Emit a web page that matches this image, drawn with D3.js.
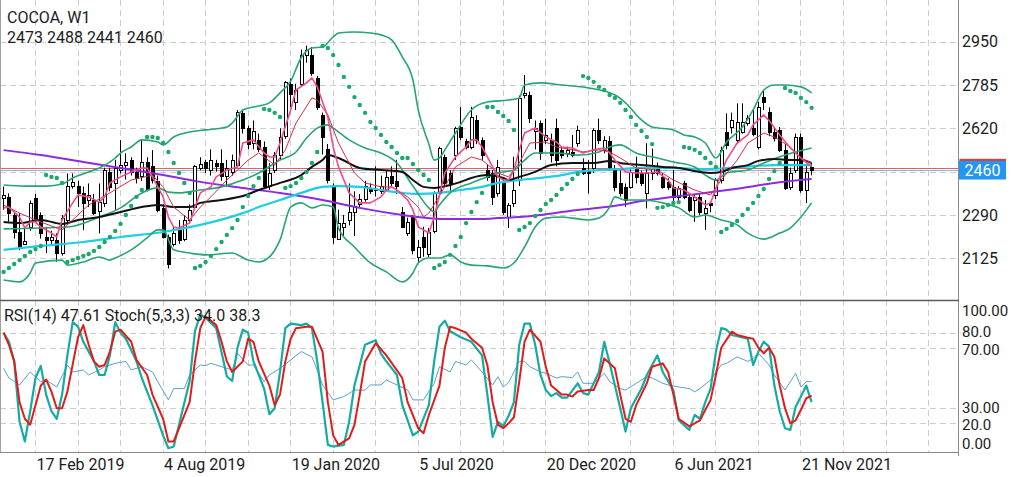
<!DOCTYPE html>
<html><head><meta charset="utf-8">
<script src="https://cdn.jsdelivr.net/npm/d3@7"></script>
<style>
html,body{margin:0;padding:0;background:#fff;overflow:hidden;}
svg{display:block;font-family:Roboto,"Noto Sans",sans-serif;}
</style></head><body>
<svg id="chart" width="1024" height="477"></svg>
<script>
// ---------- DATA (weekly bars, index 0 = week of 6 Jan 2019) ----------
const symbolTitle = "COCOA, W1";
const lastOHLC = "2473 2488 2441 2460";
const oscTitle = "RSI(14) 47.61 Stoch(5,3,3) 34.0 38.3";
const currentPrice = 2460;
const askPrice = 2470;

const openP = [2355,2360,2290,2226,2180,2245,2353,2290,2207,2195,2195,2145,2270,2400,2400,2372,2347,2347,2305,2334,
2455,2410,2460,2480,2500,2455,2440,2490,2475,2420,2316,2207,2180,2240,2200,2270,2320,2470,2490,2460,
2487,2487,2440,2455,2480,2680,2620,2565,2575,2550,2400,2460,2518,2590,2790,2720,2790,2900,2900,2810,
2670,2540,2400,2200,2245,2270,2300,2330,2350,2390,2385,2380,2390,2440,2420,2300,2220,2283,2131,2207,
2143,2230,2372,2510,2448,2518,2626,2570,2550,2652,2575,2460,2448,2372,2417,2283,2334,2423,2746,2746,
2610,2640,2575,2575,2620,2537,2525,2530,2563,2467,2461,2470,2614,2537,2570,2460,2410,2398,2398,2467,
2448,2372,2448,2474,2436,2417,2398,2360,2410,2360,2347,2360,2296,2334,2365,2423,2607,2626,2575,2607,
2640,2620,2550,2740,2683,2607,2614,2537,2395,2460,2588,2385,2473];
const highP = [2398,2372,2300,2296,2245,2345,2370,2300,2245,2230,2220,2290,2448,2448,2420,2398,2410,2370,2410,2470,
2470,2500,2575,2525,2510,2470,2575,2510,2537,2440,2330,2215,2245,2270,2290,2330,2480,2510,2500,2540,
2500,2540,2500,2520,2690,2690,2630,2650,2600,2570,2487,2530,2620,2800,2810,2790,2920,2935,2930,2820,
2680,2560,2410,2310,2290,2410,2380,2370,2420,2410,2475,2440,2460,2475,2500,2320,2280,2290,2195,2245,
2240,2380,2550,2520,2460,2626,2702,2580,2702,2670,2585,2480,2460,2500,2430,2335,2512,2745,2823,2760,
2650,2650,2657,2600,2657,2550,2550,2595,2630,2505,2500,2620,2657,2590,2590,2480,2460,2410,2470,2512,
2460,2563,2543,2490,2450,2430,2461,2400,2420,2370,2370,2370,2347,2340,2430,2550,2677,2680,2715,2715,
2670,2690,2720,2766,2700,2620,2625,2560,2470,2600,2600,2480,2488];
const lowP = [2310,2264,2200,2156,2175,2230,2260,2200,2145,2180,2112,2135,2260,2390,2320,2232,2320,2290,2220,2320,
2380,2310,2448,2425,2440,2410,2420,2380,2410,2300,2200,2086,2170,2180,2190,2260,2310,2460,2450,2440,
2455,2420,2400,2440,2470,2600,2540,2540,2530,2395,2385,2450,2500,2580,2700,2690,2780,2870,2820,2690,
2520,2410,2180,2195,2210,2250,2210,2320,2340,2370,2360,2370,2380,2400,2370,2240,2210,2140,2112,2131,
2130,2220,2370,2400,2380,2500,2575,2540,2540,2560,2500,2420,2328,2360,2290,2240,2320,2400,2734,2640,
2540,2500,2560,2490,2475,2505,2510,2510,2550,2442,2372,2450,2560,2525,2460,2380,2360,2321,2390,2410,
2400,2315,2423,2440,2390,2385,2340,2345,2350,2300,2264,2290,2233,2300,2350,2410,2540,2600,2560,2600,
2630,2590,2540,2690,2590,2570,2530,2385,2385,2450,2375,2335,2441];
const closeP = [2365,2296,2226,2169,2190,2334,2270,2220,2194,2205,2145,2277,2400,2415,2372,2334,2366,2296,2340,2460,
2398,2470,2480,2490,2455,2430,2490,2390,2425,2310,2207,2105,2220,2195,2270,2310,2475,2485,2470,2500,
2475,2437,2470,2500,2683,2620,2560,2610,2540,2400,2450,2518,2588,2797,2752,2765,2900,2920,2830,2702,
2588,2423,2207,2258,2258,2300,2325,2350,2400,2380,2390,2400,2435,2410,2400,2245,2264,2156,2169,2169,
2226,2372,2544,2410,2410,2620,2588,2550,2664,2575,2518,2435,2360,2474,2302,2328,2385,2734,2753,2658,
2620,2525,2595,2518,2500,2518,2537,2518,2614,2448,2448,2614,2575,2575,2474,2398,2372,2347,2455,2436,
2410,2448,2474,2448,2398,2398,2360,2391,2360,2309,2360,2302,2315,2328,2423,2537,2556,2652,2645,2645,
2658,2600,2700,2720,2607,2582,2537,2393,2450,2588,2385,2455,2460];

// Parabolic SAR, one value per bar
const sarP = [2073,2088,2103,2118,2134,2149,2160,2172,
2442,2435,2431,2412,
2111,2118,2126,2134,2141,2153,2168,2187,2206,2229,2256,2290,2324,2359,2385,
2587,2587,2583,2564,2530,2488,2450,2412,2374,
2088,2096,2111,2134,2160,2187,2214,2240,2271,2320,2362,2400,2431,
2694,2690,2679,2663,
2393,2400,2412,2431,2454,2488,2530,
2934,2926,2899,2861,2816,2778,2739,2709,2679,2644,2621,2595,2568,2549,2526,2507,2507,2484,2461,2442,2423,
2088,2099,2111,2138,2172,2206,2259,2301,2339,2374,
2701,2701,2682,2667,2648,2614,
2233,2244,2259,2286,2309,2332,2347,2366,2389,2408,2427,2446,
2819,2812,2797,2778,2766,2747,2736,2717,2690,2663,2633,2610,2587,2560,
2317,2320,2328,2336,2339,
2549,2545,2538,2526,2507,2488,2473,
2225,2237,2252,2267,2290,2313,2336,2362,2389,2427,2457,2488,
2774,2762,2755,2736,2720,2698];

// Indicator lines: [bar index, value]
const bbUpper = [[0,2404],[4,2400],[8,2400],[11,2408],[13,2431],[16,2454],[18,2469],[21,2507],[22,2526],[24,2549],[26,2576],[29,2568],[30,2557],[32,2587],[35,2606],[38,2614],[42,2625],[43,2640],[45,2690],[47,2701],[50,2717],[52,2755],[54,2800],[56,2890],[58,2926],[60,2930],[62,2968],[63,2983],[66,2987],[69,2983],[71,2976],[73,2957],[75,2892],[77,2804],[78,2690],[80,2560],[81,2499],[82,2507],[83,2538],[85,2602],[88,2690],[91,2720],[95,2728],[97,2736],[98,2785],[101,2793],[105,2785],[110,2774],[115,2747],[117,2717],[120,2652],[122,2625],[126,2614],[128,2595],[130,2587],[132,2564],[134,2507],[136,2568],[139,2625],[141,2690],[143,2766],[145,2785],[147,2785],[150,2778],[152,2755]];
const bbMiddle = [[0,2237],[12,2244],[18,2282],[22,2317],[26,2374],[29,2393],[31,2377],[33,2374],[37,2385],[41,2397],[45,2423],[48,2450],[52,2499],[55,2530],[57,2583],[59,2621],[61,2633],[62,2621],[65,2576],[68,2545],[71,2526],[74,2488],[77,2400],[80,2317],[81,2301],[82,2328],[84,2374],[88,2412],[91,2435],[93,2450],[96,2461],[98,2499],[100,2526],[104,2526],[108,2518],[112,2530],[114,2549],[116,2557],[119,2526],[123,2507],[126,2492],[130,2473],[132,2442],[134,2423],[136,2450],[140,2461],[143,2488],[147,2518],[149,2530],[152,2545]];
const bbLower = [[0,2042],[3,2035],[5,2069],[6,2107],[11,2118],[12,2099],[15,2111],[18,2130],[20,2118],[21,2126],[24,2157],[27,2203],[29,2233],[30,2233],[32,2157],[35,2145],[38,2138],[43,2145],[46,2118],[48,2111],[50,2130],[52,2195],[54,2320],[56,2336],[58,2317],[60,2328],[62,2320],[63,2240],[66,2168],[69,2107],[72,2073],[75,2035],[77,2069],[78,2107],[80,2126],[82,2126],[84,2138],[86,2111],[88,2099],[91,2096],[94,2088],[96,2107],[98,2168],[100,2244],[102,2278],[105,2282],[107,2278],[110,2271],[112,2278],[114,2320],[115,2359],[117,2347],[120,2347],[124,2336],[127,2317],[130,2282],[132,2290],[135,2271],[138,2252],[140,2221],[143,2198],[146,2221],[148,2240],[150,2282],[152,2336]];
const fastMA = [[0,2317],[1,2320],[3,2282],[4,2240],[5,2263],[6,2263],[7,2244],[9,2221],[10,2206],[11,2271],[13,2336],[14,2366],[16,2359],[18,2339],[19,2359],[20,2412],[22,2435],[24,2454],[26,2469],[27,2469],[28,2435],[30,2359],[31,2282],[32,2244],[33,2240],[35,2259],[36,2320],[37,2374],[39,2397],[40,2435],[42,2461],[44,2473],[45,2564],[47,2576],[49,2526],[50,2511],[51,2511],[52,2564],[54,2690],[55,2766],[57,2793],[58,2812],[59,2778],[61,2663],[62,2549],[63,2473],[65,2374],[67,2336],[69,2336],[71,2359],[72,2385],[73,2397],[74,2385],[76,2347],[77,2309],[78,2244],[80,2221],[81,2282],[83,2450],[85,2511],[87,2549],[88,2576],[89,2576],[90,2549],[92,2473],[93,2435],[94,2423],[95,2423],[96,2461],[97,2537],[98,2602],[100,2621],[102,2587],[104,2568],[105,2549],[107,2545],[109,2526],[111,2538],[113,2545],[114,2526],[115,2499],[117,2454],[119,2450],[121,2450],[123,2454],[125,2423],[126,2393],[128,2385],[130,2359],[132,2328],[133,2336],[134,2390],[135,2450],[136,2500],[138,2564],[140,2595],[141,2633],[143,2671],[144,2650],[146,2595],[148,2545],[150,2507],[152,2473]];
const slowMA = [[0,2328],[3,2297],[7,2263],[11,2233],[13,2271],[16,2328],[20,2374],[24,2423],[28,2442],[30,2397],[32,2320],[35,2271],[37,2320],[39,2359],[42,2423],[46,2499],[48,2526],[51,2480],[53,2538],[55,2640],[58,2736],[59,2728],[61,2671],[63,2564],[66,2450],[68,2412],[71,2397],[73,2397],[76,2359],[78,2320],[79,2282],[80,2297],[83,2397],[85,2473],[88,2511],[90,2499],[93,2450],[95,2435],[97,2488],[99,2564],[102,2568],[104,2549],[107,2538],[109,2530],[112,2538],[114,2530],[116,2507],[119,2469],[123,2461],[126,2423],[130,2385],[133,2366],[135,2423],[138,2499],[140,2564],[143,2602],[145,2587],[148,2549],[150,2507],[152,2488]];
const blackMA = [[0,2263],[3,2259],[7,2271],[11,2256],[14,2271],[18,2282],[22,2301],[26,2320],[29,2328],[32,2320],[35,2320],[37,2336],[41,2347],[45,2362],[48,2385],[52,2412],[56,2442],[58,2473],[60,2499],[61,2518],[63,2507],[67,2469],[71,2461],[75,2454],[77,2423],[79,2397],[81,2393],[84,2404],[86,2416],[88,2431],[91,2442],[94,2431],[95,2423],[97,2435],[100,2454],[103,2480],[107,2488],[111,2488],[114,2496],[116,2488],[120,2480],[124,2473],[127,2469],[131,2454],[133,2450],[135,2454],[137,2469],[140,2480],[142,2496],[145,2503],[148,2499],[150,2499],[152,2488]];
const cyanMA = [[0,2157],[7,2172],[15,2187],[22,2206],[30,2225],[37,2252],[45,2297],[48,2320],[52,2347],[56,2374],[60,2397],[63,2400],[67,2397],[71,2385],[75,2374],[78,2370],[82,2374],[86,2385],[90,2397],[93,2412],[97,2423],[101,2431],[105,2442],[108,2454],[112,2461],[116,2465],[120,2469],[126,2469],[132,2465],[139,2473],[145,2480],[152,2480]];
const purpleMA = [[0,2537],[7,2518],[15,2492],[22,2469],[30,2442],[37,2416],[45,2393],[52,2374],[60,2347],[67,2317],[75,2290],[78,2282],[82,2275],[86,2275],[90,2275],[93,2278],[97,2282],[101,2290],[105,2301],[108,2309],[112,2317],[116,2328],[120,2343],[126,2359],[132,2374],[139,2393],[145,2412],[152,2427]];

const stochMain = [[0,80],[1,74],[2,61],[3,21],[4,8],[5,28],[6,50],[7,58],[8,39],[9,28],[10,23],[11,39],[12,65],[13,87],[14,84],[15,74],[17,61],[18,52],[19,52],[20,65],[21,87],[22,80],[23,76],[25,61],[26,50],[28,32],[30,12],[31,3.5],[32,4.6],[33,19],[35,48],[36,81],[37,92],[38,90],[40,83],[41,67],[42,51],[43,48],[44,70],[45,82],[46,80],[47,61],[49,43],[50,26],[51,30],[52,54],[53,83],[54,86],[56,85],[57,86],[58,83],[59,61],[60,34],[61,5.7],[62,4.6],[64,5.7],[65,21],[66,45],[68,72],[70,75],[71,66],[72,61],[74,52],[75,32],[77,12],[78,14.5],[80,32],[81,61],[82,84],[83,88],[84,81],[86,77],[88,74],[90,65],[91,39],[92,11],[93,21],[94,18],[95,25],[96,34],[97,72],[98,86],[99,86],[100,72],[101,52],[102,42],[103,38],[104,40],[105,37],[106,37],[108,46.5],[109,40],[110,39],[112,54],[113,74],[114,60],[115,45],[116,30],[117,14.5],[118,30],[120,43],[121,52],[123,65],[124,54],[126,42],[127,22],[129,15.6],[130,25.5],[131,23],[132,34],[133,43],[134,67.5],[135,83],[136,82],[137,78.5],[140,76],[141,58.6],[142,67.5],[143,74],[144,70.8],[145,45],[146,28],[147,16.7],[148,15.6],[149,31],[150,37.7],[151,45],[152,34]];
const stochSignal = [[0,80],[1,72],[2,61],[3,34],[4,23],[5,19],[6,32],[7,45],[8,49],[9,41],[10,30],[11,30],[12,41],[13,59],[14,77],[15,85],[16,72],[17,61],[18,57.5],[19,58.6],[20,67.5],[21,80.7],[22,82],[24,74],[25,62],[27,52],[28,39],[30,23],[31,8],[32,8],[33,16.7],[35,34],[36,61],[37,83],[38,90.7],[40,85],[41,74],[42,61],[43,54],[45,61],[46,76],[47,74],[48,61],[50,45],[51,32],[52,39],[53,61],[54,76],[55,83],[57,84],[58,84],[60,67.5],[61,34],[62,12],[63,5.7],[65,10],[66,19],[67,39],[68,61],[70,73],[72,65],[73,60],[75,50],[76,34],[78,16.7],[79,13.4],[80,25.5],[82,45],[83,70],[84,84],[85,83],[87,80],[88,76],[90,70],[91,58.6],[92,34],[93,19],[94,16.7],[95,20],[96,24],[97,47.6],[98,74],[99,82],[101,74],[102,57.5],[103,45],[105,39],[106,39],[107,37.7],[108,41],[110,42],[111,42],[112,50],[113,63],[115,56.4],[116,39],[117,23],[118,21],[119,32],[121,46.5],[122,57.5],[124,59.7],[125,54],[126,39],[127,23],[129,18],[130,20],[131,22],[133,35.5],[134,52],[135,70],[137,80.7],[138,78.5],[140,76.7],[141,76],[142,70],[143,66.4],[144,70],[145,64],[146,45],[147,30],[148,20],[149,22],[150,29],[151,36.6],[152,38.3]];
const rsi14 = [[0,56.4],[1,50],[3,45.4],[5,54],[7,47.6],[8,48.7],[10,44],[12,58.6],[13,54],[15,55.3],[16,52],[18,55.3],[19,57.5],[21,59.7],[23,61],[24,55.3],[26,57.5],[28,54],[29,47.6],[31,35.5],[32,43],[34,43],[35,52],[37,58.6],[38,58.2],[39,59.7],[41,57.5],[43,55.3],[44,66.4],[46,58.6],[47,58.6],[49,47.6],[50,52],[52,56.4],[54,62],[56,67.5],[58,64],[59,55.3],[60,45.4],[62,35.5],[64,37.7],[66,42],[68,42],[69,45.4],[71,45.4],[72,48.7],[74,45.4],[76,42],[77,35.5],[79,35.5],[81,46.5],[82,57.5],[84,54],[85,61],[87,58.6],[88,62],[90,54],[92,45.4],[93,50.9],[94,44],[95,47],[97,61],[98,61],[99,57.5],[101,54],[102,53.1],[104,50],[105,50.9],[107,50.3],[108,54],[109,46.5],[111,46.5],[113,53.1],[114,47.6],[116,43],[117,42],[119,46.5],[121,50.9],[122,50],[124,46.5],[125,45.4],[127,44],[129,43],[130,40.8],[131,43],[133,48.7],[135,58.6],[136,59.7],[138,64],[140,61],[141,63],[142,66.4],[144,58.6],[145,52],[147,42],[149,53.1],[150,44],[151,47.6],[152,47.6]];

const priceGridLevels = [2950, 2785, 2620, 2455, 2290, 2125];
const priceTickLabels = [2950, 2785, 2620, 2290, 2125];   // 2455 is covered by the current-price label
const oscTicks = [100, 80, 70, 30, 20, 0];
const oscTickLabels = ["100.00", "80.0", "70.00", "30.00", "20.0", "0.00"];
const oscGridLevels = [80, 70, 30, 20];
const dateTickIdx = [6, 30, 54, 78, 102, 126, 150];
const dateLabels = ["17 Feb 2019", "4 Aug 2019", "19 Jan 2020", "5 Jul 2020", "20 Dec 2020", "6 Jun 2021", "21 Nov 2021"];

// ---------- LAYOUT ----------
const plotR = 958, mainBottom = 300.5, oscBottom = 452.5;
const x = d3.scaleLinear().domain([0, 152]).range([3.1, 811.1]);
const yP = d3.scaleLinear().domain([1962.2, 3108.9]).range([301, 0]);
const yO = d3.scaleLinear().domain([0, 100]).range([453.5, 302.5]);

const svg = d3.select('#chart');
svg.append('rect').attr('width', 1024).attr('height', 477).attr('fill', '#fff');
const defs = svg.append('defs');
defs.append('clipPath').attr('id', 'cMain').append('rect').attr('x', 0).attr('y', 0).attr('width', plotR).attr('height', 300);
defs.append('clipPath').attr('id', 'cOsc').append('rect').attr('x', 0).attr('y', 301).attr('width', plotR).attr('height', 151);

const gridCol = '#cdcdcd', dash = '6,4';
const gridIdx = d3.range(6, 176, 8);
const grid = svg.append('g');
grid.selectAll('line.v').data(gridIdx).join('line').attr('class', 'v')
  .attr('x1', d => Math.round(x(d)) + 0.5).attr('x2', d => Math.round(x(d)) + 0.5)
  .attr('y1', 0).attr('y2', 452).attr('stroke', gridCol).attr('stroke-dasharray', dash);
grid.selectAll('line.hp').data(priceGridLevels).join('line').attr('class', 'hp')
  .attr('x1', 0).attr('x2', plotR).attr('y1', d => Math.round(yP(d)) + 0.5).attr('y2', d => Math.round(yP(d)) + 0.5)
  .attr('stroke', gridCol).attr('stroke-dasharray', dash);
grid.selectAll('line.ho').data(oscGridLevels).join('line').attr('class', 'ho')
  .attr('x1', 0).attr('x2', plotR).attr('y1', d => Math.round(yO(d)) + 0.5).attr('y2', d => Math.round(yO(d)) + 0.5)
  .attr('stroke', gridCol).attr('stroke-dasharray', dash);

// current price lines
svg.append('line').attr('x1', 0).attr('x2', plotR).attr('y1', Math.round(yP(askPrice)) + 0.5).attr('y2', Math.round(yP(askPrice)) + 0.5)
  .attr('stroke', '#e06060').attr('stroke-width', 1);
svg.append('line').attr('x1', 0).attr('x2', plotR).attr('y1', Math.round(yP(currentPrice)) + 0.5).attr('y2', Math.round(yP(currentPrice)) + 0.5)
  .attr('stroke', '#8ab8dc').attr('stroke-width', 1);

// candles
const main = svg.append('g').attr('clip-path', 'url(#cMain)');
const bars = d3.range(closeP.length);
const cg = main.append('g');
bars.forEach(i => {
  const cx = Math.round(x(i));
  const o = openP[i], c = closeP[i];
  cg.append('line').attr('x1', cx + 0.5).attr('x2', cx + 0.5)
    .attr('y1', yP(highP[i])).attr('y2', yP(lowP[i])).attr('stroke', '#000').attr('stroke-width', 1);
  const t = Math.round(yP(Math.max(o, c))) + 0.5;
  const b = Math.round(yP(Math.min(o, c))) + 0.5;
  cg.append('rect').attr('x', cx - 0.5).attr('width', 3).attr('y', t).attr('height', Math.max(1, b - t))
    .attr('fill', c >= o ? '#fff' : '#000').attr('stroke', '#000').attr('stroke-width', 1);
});

function drawLine(g, data, ys, color, w, curve) {
  g.append('path').datum(data)
    .attr('d', d3.line().x(d => x(d[0]) + 0.5).y(d => ys(d[1])).curve(curve || d3.curveMonotoneX))
    .attr('fill', 'none').attr('stroke', color).attr('stroke-width', w).attr('stroke-linejoin', 'round');
}
const bbCol = '#27a572';
drawLine(main, purpleMA, yP, '#8b2be2', 2);
drawLine(main, cyanMA, yP, '#1ccfe4', 2.2);
drawLine(main, bbUpper, yP, bbCol, 1.6);
drawLine(main, bbMiddle, yP, bbCol, 1.6);
drawLine(main, bbLower, yP, bbCol, 1.6);
drawLine(main, blackMA, yP, '#111', 2);
drawLine(main, slowMA, yP, '#cf2f45', 1, d3.curveLinear);
drawLine(main, fastMA, yP, '#f24a8c', 1.6, d3.curveLinear);

main.append('g').selectAll('circle').data(sarP).join('circle')
  .attr('cx', (d, i) => x(i) + 0.5).attr('cy', d => yP(d)).attr('r', 2.2).attr('fill', '#1aa86b');

// oscillator panel
const osc = svg.append('g').attr('clip-path', 'url(#cOsc)');
drawLine(osc, rsi14, yO, '#5a9fd2', 1, d3.curveLinear);
drawLine(osc, stochMain, yO, '#17aaa0', 2.2, d3.curveLinear);
drawLine(osc, stochSignal, yO, '#e21b1b', 2, d3.curveLinear);

// frame
const frame = svg.append('g').attr('stroke-width', 1);
frame.append('line').attr('x1', 0.5).attr('x2', 0.5).attr('y1', 0).attr('y2', 452).attr('stroke', '#a0a0a0');
frame.append('line').attr('x1', plotR + 0.5).attr('x2', plotR + 0.5).attr('y1', 0).attr('y2', 456).attr('stroke', '#8a8a8a');
frame.append('line').attr('x1', 0).attr('x2', plotR + 1).attr('y1', mainBottom).attr('y2', mainBottom).attr('stroke', '#5a5a5a').attr('stroke-width', 1.6);
frame.append('line').attr('x1', 0).attr('x2', plotR + 1).attr('y1', oscBottom).attr('y2', oscBottom).attr('stroke', '#8a8a8a');

// axes
const txtCol = '#1c1c1c';
const pAxis = svg.append('g').attr('transform', `translate(${plotR},0)`)
  .call(d3.axisRight(yP).tickValues(priceTickLabels).tickSize(0).tickPadding(4).tickFormat(d3.format('d')));
pAxis.select('.domain').remove();
pAxis.selectAll('text').attr('font-size', 16).attr('fill', txtCol).attr('font-family', 'Roboto');

const oscNudge = {100: 8.5, 80: -1, 70: 1.5, 30: -1, 20: 1.5, 0: -10};
const oAxis = svg.append('g').attr('transform', `translate(${plotR},0)`)
  .call(d3.axisRight(yO).tickValues(oscTicks).tickSize(0).tickPadding(4).tickFormat((d, i) => oscTickLabels[i]));
oAxis.select('.domain').remove();
oAxis.selectAll('text').attr('font-size', 15).attr('fill', txtCol).attr('font-family', 'Roboto')
  .attr('y', d => oscNudge[d]);

const xAxis = svg.append('g').attr('transform', `translate(0,${oscBottom})`)
  .call(d3.axisBottom(x).tickValues(dateTickIdx).tickSize(0).tickFormat((d, i) => dateLabels[i]));
xAxis.select('.domain').remove();
xAxis.selectAll('text').attr('font-size', 16).attr('fill', txtCol).attr('font-family', 'Roboto')
  .attr('text-anchor', 'start').attr('dx', 1).attr('y', 17.5).attr('dy', 0);

// current price label
const cy = yP(currentPrice);
svg.append('rect').attr('x', 959.5).attr('y', cy - 11.5).attr('width', 46.5).attr('height', 18.5).attr('fill', '#e53935');
svg.append('rect').attr('x', 959).attr('y', cy - 9.5).attr('width', 47).attr('height', 18.7).attr('fill', '#2196f3');
svg.append('text').attr('x', 964.5).attr('y', cy).attr('dy', '0.36em').attr('font-size', 16).attr('fill', '#fff')
  .attr('font-family', 'Roboto').text(String(currentPrice));

// headers
svg.append('text').attr('x', 7).attr('y', 23).attr('font-size', 16).attr('fill', txtCol).text(symbolTitle);
svg.append('text').attr('x', 7).attr('y', 43).attr('font-size', 16).attr('fill', txtCol).text(lastOHLC);
svg.append('text').attr('x', 4).attr('y', 321).attr('font-size', 16).attr('fill', txtCol).text(oscTitle);
</script>
</body></html>
